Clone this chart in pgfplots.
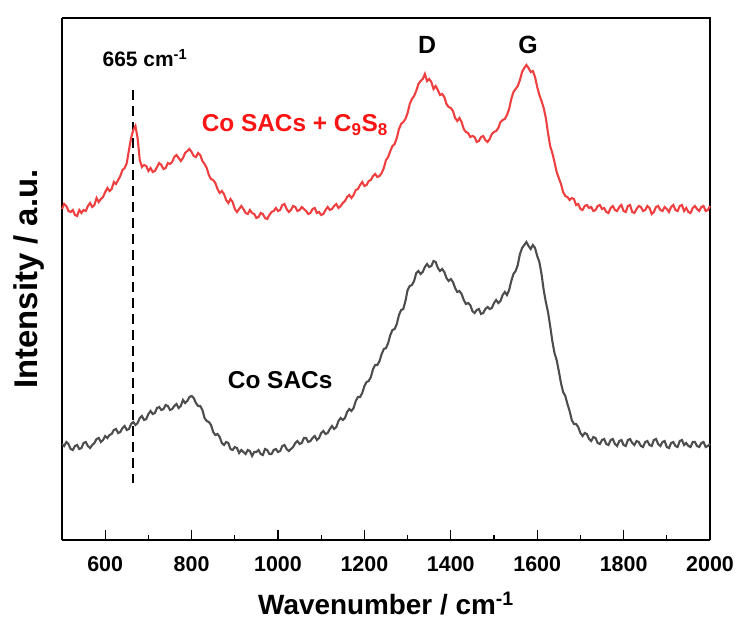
\documentclass[border=0pt]{standalone}
\usepackage{fontspec}
\setmainfont{Liberation Sans}
\usepackage{pgfplots}
\pgfplotsset{compat=1.18}
\definecolor{redline}{RGB}{238,64,64}
\definecolor{grayline}{RGB}{77,77,77}
\definecolor{redtext}{RGB}{250,20,20}
\begin{document}
\begin{tikzpicture}
\begin{axis}[
  scale only axis, width=648bp, height=522bp,
  xmin=500, xmax=2000, ymin=18, ymax=540, y dir=reverse,
  xtick={600,800,...,2000}, minor x tick num=1,
  ytick=\empty, axis x line*=bottom, axis y line*=left,
  tick pos=bottom, tick align=inside,
  major tick length=10bp, minor tick length=5bp,
  every tick/.style={black, line width=1.2bp},
  axis line style={line width=1.4bp},
  /pgf/number format/assume math mode=true,
  /pgf/number format/1000 sep={},
  tick label style={font=\fontsize{21.5}{24}\selectfont\bfseries},
  xticklabel style={yshift=-13bp},
  xlabel={Wavenumber / cm\textsuperscript{-1}},
  ylabel={Intensity / a.u.},
  xlabel style={font=\fontsize{28}{30}\selectfont\bfseries, yshift=-14bp},
  ylabel style={font=\fontsize{33}{36}\selectfont\bfseries, yshift=14bp},
  clip=false,
]
\draw[line width=1.4bp] (axis cs:500,18) -- (axis cs:2000,18) -- (axis cs:2000,540);
\addplot[black, line width=2bp, dash pattern=on 10bp off 6bp] coordinates {(665,90) (665,483)};
\addplot[grayline, line width=2.1bp, line join=miter] coordinates {
(500,444)(505,446)(510,442)(515,444)(520,449)(525,450)(530,446)(535,445)(540,449)(545,448)(550,443)(555,442)(560,446)(565,448)(570,445)(575,443)(580,439)(585,438)(590,442)(595,440)
(600,436)(605,438)(610,435)(615,434)(620,430)(625,429)(630,433)(635,432)(640,428)(645,426)(650,430)(655,429)(660,424)(665,422)(670,425)(675,423)(680,418)(685,416)(690,420)(695,419)
(700,414)(705,411)(710,414)(715,413)(720,408)(725,407)(730,410)(735,409)(740,405)(745,406)(750,410)(755,409)(760,406)(765,404)(770,408)(775,406)(780,400)(785,403)(790,401)(795,397)
(800,396)(805,398)(810,403)(815,406)(820,406)(825,410)(830,418)(835,421)(840,422)(845,425)(850,432)(855,435)(860,434)(865,437)(870,443)(875,445)(880,442)(885,443)(890,449)(895,450)
(900,447)(905,448)(910,453)(915,450)(920,452)(925,454)(930,450)(935,451)(940,456)(945,452)(950,452)(955,450)(960,454)(965,455)(970,449)(975,450)(980,454)(985,454)(990,450)(995,449)
(1000,452)(1005,451)(1010,446)(1015,445)(1020,449)(1025,451)(1030,449)(1035,447)(1040,443)(1045,441)(1050,444)(1055,443)(1060,438)(1065,438)(1070,442)(1075,441)(1080,438)(1085,436)(1090,440)(1095,438)
(1100,433)(1105,431)(1110,434)(1115,433)(1120,429)(1125,426)(1130,429)(1135,427)(1140,421)(1145,418)(1150,420)(1155,418)(1160,412)(1165,409)(1170,411)(1175,408)(1180,401)(1185,397)(1190,397)(1195,393)
(1200,386)(1205,382)(1210,381)(1215,377)(1220,369)(1225,365)(1230,365)(1235,361)(1240,354)(1245,349)(1250,348)(1255,343)(1260,335)(1265,330)(1270,329)(1275,324)(1280,315)(1285,310)(1290,309)(1295,301)
(1300,290)(1305,286)(1310,285)(1315,281)(1320,273)(1325,271)(1330,274)(1335,272)(1340,267)(1345,264)(1350,267)(1355,266)(1360,261)(1365,262)(1370,268)(1375,271)(1380,269)(1385,272)(1390,278)(1395,281)
(1400,279)(1405,282)(1410,288)(1415,292)(1420,291)(1425,294)(1430,300)(1435,304)(1440,303)(1445,305)(1450,311)(1455,313)(1460,310)(1465,309)(1470,314)(1475,313)(1480,309)(1485,307)(1490,309)(1495,308)
(1500,303)(1505,300)(1510,303)(1515,301)(1520,295)(1525,292)(1530,295)(1535,290)(1540,281)(1545,274)(1550,271)(1555,265)(1560,254)(1565,248)(1570,245)(1575,242)(1580,246)(1585,249)(1590,245)(1595,248)
(1600,256)(1605,262)(1610,274)(1615,290)(1620,302)(1625,312)(1630,326)(1635,341)(1640,353)(1645,360)(1650,371)(1655,383)(1660,392)(1665,396)(1670,404)(1675,411)(1680,420)(1685,424)(1690,424)(1695,427)
(1700,433)(1705,436)(1710,433)(1715,434)(1720,439)(1725,441)(1730,437)(1735,438)(1740,443)(1745,444)(1750,440)(1755,439)(1760,444)(1765,445)(1770,440)(1775,439)(1780,444)(1785,446)(1790,441)(1795,440)
(1800,445)(1805,446)(1810,440)(1815,439)(1820,443)(1825,445)(1830,441)(1835,442)(1840,446)(1845,447)(1850,442)(1855,441)(1860,445)(1865,446)(1870,440)(1875,439)(1880,444)(1885,446)(1890,442)(1895,441)
(1900,447)(1905,448)(1910,443)(1915,442)(1920,446)(1925,447)(1930,441)(1935,440)(1940,445)(1945,443)(1950,446)(1955,447)(1960,442)(1965,442)(1970,446)(1975,447)(1980,443)(1985,442)(1990,447)(1995,446)
(2000,444)
};
\addplot[redline, line width=2.1bp, line join=miter] coordinates {
(500,209)(505,204)(510,206)(515,211)(520,212)(525,210)(530,215)(535,216)(540,210)(545,213)(550,210)(555,211)(560,206)(565,203)(570,207)(575,205)(580,198)(585,202)(590,199)(595,197)
(600,192)(605,188)(610,191)(615,189)(620,182)(625,184)(630,180)(635,176)(640,170)(645,168)(650,163)(655,150)(660,138)(665,130)(670,126)(675,138)(680,160)(685,167)(690,165)(695,166)
(700,171)(705,168)(710,172)(715,171)(720,167)(725,163)(730,165)(735,169)(740,168)(745,163)(750,164)(755,162)(760,157)(765,155)(770,158)(775,161)(780,158)(785,153)(790,151)(795,149)
(800,152)(805,156)(810,157)(815,153)(820,155)(825,161)(830,164)(835,168)(840,175)(845,179)(850,180)(855,183)(860,189)(865,193)(870,191)(875,194)(880,200)(885,203)(890,199)(895,202)
(900,209)(905,212)(910,209)(915,206)(920,209)(925,213)(930,214)(935,210)(940,213)(945,214)(950,218)(955,217)(960,213)(965,214)(970,218)(975,219)(980,215)(985,212)(990,211)(995,208)
(1000,211)(1005,210)(1010,205)(1015,204)(1020,209)(1025,212)(1030,210)(1035,206)(1040,207)(1045,211)(1050,210)(1055,207)(1060,209)(1065,211)(1070,214)(1075,213)(1080,209)(1085,208)(1090,213)(1095,212)
(1100,215)(1105,214)(1110,210)(1115,207)(1120,210)(1125,209)(1130,206)(1135,204)(1140,208)(1145,206)(1150,203)(1155,201)(1160,197)(1165,195)(1170,198)(1175,195)(1180,190)(1185,189)(1190,185)(1195,182)
(1200,186)(1205,185)(1210,181)(1215,180)(1220,176)(1225,174)(1230,177)(1235,176)(1240,173)(1245,168)(1250,160)(1255,157)(1260,151)(1265,146)(1270,144)(1275,138)(1280,129)(1285,124)(1290,122)(1295,119)
(1300,113)(1305,104)(1310,99)(1315,96)(1320,91)(1325,84)(1330,81)(1335,79)(1340,74)(1345,81)(1350,79)(1355,82)(1360,89)(1365,86)(1370,90)(1375,95)(1380,94)(1385,97)(1390,104)(1395,107)
(1400,108)(1405,111)(1410,118)(1415,121)(1420,118)(1425,122)(1430,129)(1435,132)(1440,133)(1445,137)(1450,136)(1455,137)(1460,142)(1465,141)(1470,137)(1475,136)(1480,140)(1485,142)(1490,139)(1495,134)
(1500,132)(1505,131)(1510,128)(1515,122)(1520,120)(1525,119)(1530,115)(1535,109)(1540,99)(1545,92)(1550,89)(1555,86)(1560,80)(1565,72)(1570,68)(1575,65)(1580,68)(1585,72)(1590,71)(1595,77)
(1600,87)(1605,95)(1610,101)(1615,108)(1620,118)(1625,133)(1630,146)(1635,153)(1640,162)(1645,172)(1650,178)(1655,184)(1660,192)(1665,196)(1670,197)(1675,200)(1680,198)(1685,199)(1690,205)(1695,204)
(1700,209)(1705,210)(1710,206)(1715,205)(1720,208)(1725,207)(1730,211)(1735,210)(1740,206)(1745,205)(1750,209)(1755,208)(1760,212)(1765,213)(1770,208)(1775,206)(1780,210)(1785,211)(1790,207)(1795,205)
(1800,211)(1805,212)(1810,206)(1815,205)(1820,212)(1825,213)(1830,209)(1835,206)(1840,207)(1845,211)(1850,210)(1855,206)(1860,208)(1865,214)(1870,212)(1875,207)(1880,206)(1885,210)(1890,211)(1895,207)
(1900,209)(1905,212)(1910,207)(1915,205)(1920,210)(1925,211)(1930,206)(1935,205)(1940,211)(1945,208)(1950,212)(1955,213)(1960,208)(1965,206)(1970,209)(1975,211)(1980,207)(1985,206)(1990,211)(1995,210)
(2000,206)
};
\node[font=\fontsize{21}{24}\selectfont\bfseries] at (axis cs:692,58) {665 cm\textsuperscript{-1}};
\node[font=\fontsize{25}{28}\selectfont\bfseries] at (axis cs:1345,45) {D};
\node[font=\fontsize{25}{28}\selectfont\bfseries] at (axis cs:1579,45) {G};
\node[font=\fontsize{24.5}{27}\selectfont\bfseries, text=redtext] at (axis cs:1039,125) {Co SACs + C\textsubscript{9}S\textsubscript{8}};
\node[font=\fontsize{24.5}{27}\selectfont\bfseries] at (axis cs:1005,380) {Co SACs};
\end{axis}
\path ([xshift=-62bp,yshift=-82bp]current axis.south west) rectangle ([xshift=28bp,yshift=18bp]current axis.north east);
\end{tikzpicture}
\end{document}
